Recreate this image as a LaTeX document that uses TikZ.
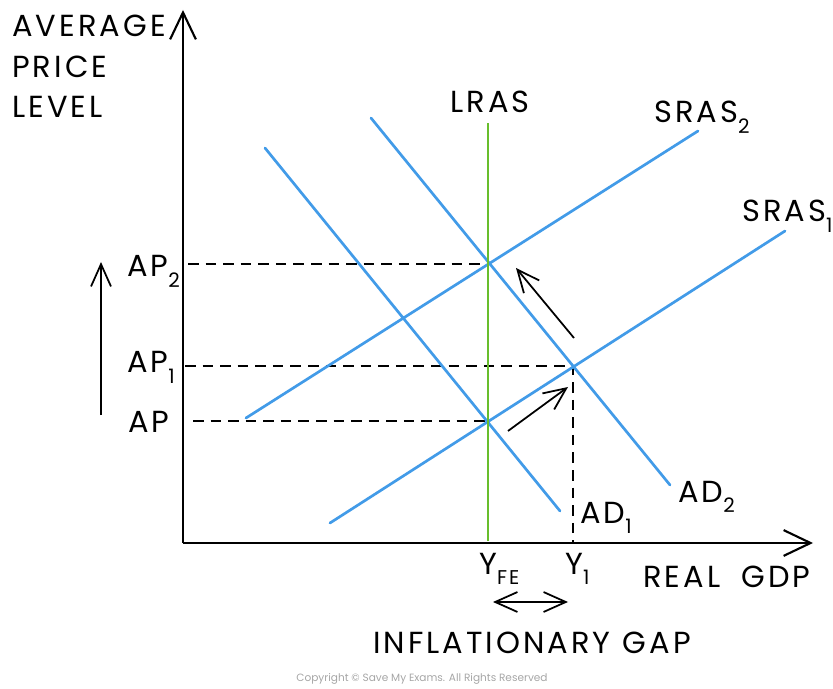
\documentclass[tikz,border=0pt]{standalone}
\usepackage{fontspec}
\setmainfont{Poppins}[LetterSpace=10]
\newfontfamily\plainfont{Poppins}
\usepackage{xcolor}
\usetikzlibrary{arrows.meta, positioning, calc}

\definecolor{curveblue}{RGB}{66,155,232}
\definecolor{lrasgreen}{RGB}{104,190,44}
\newcommand{\lowidx}[1]{\raisebox{-0.6ex}{\fontsize{17}{17}\selectfont #1}}

\begin{document}
\begin{tikzpicture}[x=0.03cm, y=0.03cm,
    curve/.style={draw=curveblue, line width=2.3pt, line cap=round},
    lras/.style={draw=lrasgreen, line width=2.4pt},
    guide/.style={dash pattern=on 9pt off 6pt, line width=1.4pt},
    axis/.style={line width=1.8pt, -{Straight Barb[length=23pt, width=22pt]}},
    movearrow/.style={line width=1.5pt, -{Straight Barb[length=19pt, width=17pt]}},
    lbl/.style={font=\fontsize{26}{30}\selectfont, inner sep=0pt}]
                        \useasboundingbox (0, 0) rectangle (833, 688);
                        \coordinate (O) at (183, 145);
                        \coordinate (ytop) at (183, 678);
                        \coordinate (xend) at (813, 145);
                        \coordinate (lrastop) at (488, 565);
                        \coordinate (lrasbot) at (488, 147);
                        \coordinate (sras2a) at (246, 270);
                        \coordinate (sras2b) at (698, 557);
                        \coordinate (sras1a) at (330, 165);
                        \coordinate (sras1b) at (785, 457);
                        \coordinate (ad1a) at (265, 540);
                        \coordinate (ad1b) at (560, 177);
                        \coordinate (ad2a) at (371, 570);
                        \coordinate (ad2b) at (670, 203);
                        \coordinate (E0) at (488, 267);
                        \coordinate (E1) at (573, 322);
                        \coordinate (E2) at (488, 424);
                        \coordinate (ap2start) at (188, 424);
                        \coordinate (ap1start) at (185, 322);
                        \coordinate (apstart) at (193, 267);
                        \coordinate (y1foot) at (573, 145);
                        \coordinate (upfrom) at (101, 273);
                        \coordinate (upto) at (101, 426);
                        \coordinate (adfrom) at (574, 350);
                        \coordinate (adto) at (516, 420);
                        \coordinate (srasfrom) at (508, 257);
                        \coordinate (srasto) at (568, 301);
                        \coordinate (gapleft) at (493, 86);
                        \coordinate (gapright) at (568, 86);
                        \node[lbl, anchor=base west] (average) at (12, 651) {AVERAGE};
                        \node[lbl, anchor=base west] (price) at (12, 610) {PRICE};
                        \node[lbl, anchor=base west] (level) at (12, 570) {LEVEL};
                        \node[lbl, anchor=base] (lraslbl) at (490, 575) {LRAS};
                        \node[lbl, anchor=base west] (sras2lbl) at (654, 565) {SRAS\lowidx{2}};
                        \node[lbl, anchor=base west] (sras1lbl) at (742, 466) {SRAS\lowidx{1}};
                        \node[lbl, anchor=base west] (ad1lbl) at (580, 165) {AD\lowidx{1}};
                        \node[lbl, anchor=base west] (ad2lbl) at (678, 186) {AD\lowidx{2}};
                        \node[lbl, anchor=base west] (ap2lbl) at (127, 411) {AP\lowidx{2}};
                        \node[lbl, anchor=base west] (ap1lbl) at (127, 315) {AP\lowidx{1}};
                        \node[lbl, anchor=base west] (aplbl) at (128, 256) {AP};
                        \node[lbl, anchor=base west] (yfelbl) at (479, 114) {Y\lowidx{FE}};
                        \node[lbl, anchor=base west] (y1lbl) at (565, 114) {Y\lowidx{1}};
                        \node[lbl, anchor=base west] (gdplbl) at (643, 101) {REAL\hspace{0.7em}GDP};
                        \node[lbl, anchor=base] (gaplbl) at (532, 35) {INFLATIONARY\hspace{0.4em}GAP};
                        \node[font=\plainfont\fontsize{9}{11}\selectfont, text=black!35, inner sep=0pt] (copyright) at (422, 9) {Copyright © Save My Exams. All Rights Reserved};
                        \draw[guide]
                        (ap2start) -- (E2)
                        (ap1start) -- (E1) -- (y1foot)
                        (apstart) -- (E0);
                        \draw[curve]
                        (sras2a) -- (sras2b)
                        (sras1a) -- (sras1b)
                        (ad1a) -- (ad1b)
                        (ad2a) -- (ad2b);
                        \draw[lras] (lrasbot) -- (lrastop);
                        \draw[axis] (O) -- (ytop);
                        \draw[axis] (O) -- (xend);
                        \draw[movearrow] (upfrom) -- (upto);
                        \draw[movearrow] (adfrom) -- (adto);
                        \draw[movearrow] (srasfrom) -- (srasto);
                        \draw[movearrow, {Straight Barb[length=19pt, width=17pt]}-{Straight Barb[length=19pt, width=17pt]}] (gapleft) -- (gapright);
                    \end{tikzpicture}
\end{document}
